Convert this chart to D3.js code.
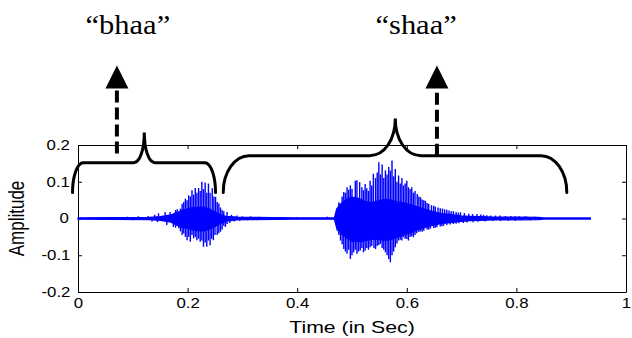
<!DOCTYPE html>
<html>
<head>
<meta charset="utf-8">
<script src="https://cdn.jsdelivr.net/npm/d3@7"></script>
<style>
	body { margin: 0; background: #fff; }
	svg { display: block; }
	.stretch { transform-box: fill-box; transform-origin: center; }
</style>
</head>
<body>
<div id="chart"></div>
<script>
// x ticks (seconds) and y ticks (amplitude)
const xTicks = [0, 0.2, 0.4, 0.6, 0.8, 1];
const yTicks = [-0.2, -0.1, 0, 0.1, 0.2];

// dense core of the waveform: time, upper edge, lower edge
const coreT  = [0, 0.13, 0.15, 0.17, 0.18, 0.19, 0.20, 0.21, 0.22, 0.23, 0.24, 0.25, 0.26, 0.27, 0.29, 0.31, 0.40, 0.468, 0.472, 0.478, 0.49, 0.50, 0.512, 0.524, 0.536, 0.548, 0.56, 0.572, 0.584, 0.596, 0.606, 0.625, 0.643, 0.661, 0.679, 0.698, 0.716, 0.734, 0.758, 0.80, 0.84, 0.85, 0.935];
const coreHi = [0.002, 0.003, 0.005, 0.01, 0.016, 0.022, 0.026, 0.03, 0.031, 0.031, 0.026, 0.018, 0.01, 0.006, 0.004, 0.003, 0.002, 0.002, 0.026, 0.038, 0.052, 0.058, 0.055, 0.046, 0.043, 0.049, 0.052, 0.05, 0.045, 0.042, 0.038, 0.029, 0.021, 0.014, 0.011, 0.007, 0.006, 0.005, 0.004, 0.0035, 0.003, 0.0015, 0.0015];
const coreLo = [-0.002, -0.003, -0.005, -0.01, -0.018, -0.024, -0.027, -0.031, -0.034, -0.034, -0.029, -0.022, -0.013, -0.007, -0.004, -0.003, -0.002, -0.002, -0.026, -0.038, -0.053, -0.062, -0.063, -0.06, -0.057, -0.057, -0.06, -0.057, -0.05, -0.044, -0.039, -0.028, -0.02, -0.014, -0.011, -0.008, -0.006, -0.005, -0.004, -0.0035, -0.003, -0.0015, -0.0015];

// individual peaks sticking out of the core
const peakT = [
	0.02, 0.045, 0.06, 0.075, 0.09, 0.10, 0.11, 0.12, 0.128, 0.135, 0.14, 0.145,
	0.147, 0.159, 0.168, 0.178, 0.187, 0.196, 0.202, 0.208, 0.214, 0.220, 0.226, 0.232, 0.238, 0.245, 0.251, 0.257, 0.263, 0.272, 0.28, 0.29, 0.30, 0.315, 0.33,
	0.181, 0.190, 0.193, 0.199, 0.205, 0.211, 0.217, 0.223, 0.229, 0.235, 0.241, 0.248, 0.254, 0.260, 0.266,
	0.162, 0.174, 0.184, 0.193, 0.199, 0.205, 0.211, 0.217, 0.223, 0.229, 0.235, 0.241, 0.247, 0.254, 0.260, 0.269, 0.277, 0.285, 0.295, 0.31,
	0.178, 0.187, 0.190, 0.196, 0.202, 0.208, 0.214, 0.220, 0.226, 0.232, 0.238, 0.244, 0.250, 0.257, 0.263, 0.266, 0.272,
	0.35, 0.37, 0.40, 0.44, 0.455,
	0.476, 0.485, 0.491, 0.497, 0.506, 0.514, 0.524, 0.533, 0.539, 0.549, 0.555, 0.561, 0.567, 0.573, 0.579, 0.585, 0.591, 0.600, 0.609, 0.619, 0.628, 0.637, 0.649, 0.661, 0.673, 0.685, 0.698, 0.713, 0.728, 0.746, 0.762, 0.780, 0.798, 0.816, 0.834,
	0.482, 0.488, 0.494, 0.500, 0.509, 0.518, 0.521, 0.527, 0.530, 0.536, 0.543, 0.546, 0.552, 0.558, 0.564, 0.570, 0.576, 0.582, 0.588, 0.594, 0.597, 0.603, 0.606, 0.612, 0.615, 0.622, 0.625, 0.631, 0.634, 0.640, 0.645, 0.652, 0.657, 0.665, 0.669, 0.677, 0.681, 0.690, 0.694, 0.705, 0.720, 0.735, 0.740, 0.753, 0.770, 0.790, 0.805, 0.820, 0.840,
	0.473, 0.479, 0.485, 0.491, 0.497, 0.503, 0.509, 0.515, 0.524, 0.533, 0.543, 0.552, 0.561, 0.567, 0.570, 0.579, 0.585, 0.594, 0.603, 0.612, 0.622, 0.631, 0.643, 0.655, 0.667, 0.685, 0.703, 0.721, 0.743, 0.771, 0.798, 0.825,
	0.476, 0.482, 0.488, 0.494, 0.500, 0.506, 0.512, 0.518, 0.521, 0.527, 0.530, 0.536, 0.540, 0.546, 0.549, 0.555, 0.558, 0.564, 0.573, 0.576, 0.582, 0.588, 0.591, 0.597, 0.600, 0.606, 0.609, 0.615, 0.618, 0.625, 0.628, 0.637, 0.640, 0.649, 0.652, 0.661, 0.664, 0.673, 0.679, 0.690, 0.695, 0.710, 0.730, 0.757, 0.785, 0.810, 0.835
];
const peakV = [
	0.003, -0.004, 0.004, -0.003, 0.005, -0.005, 0.006, -0.004, 0.007, -0.008, 0.01, -0.01,
	0.014, 0.018, 0.018, 0.023, 0.027, 0.054, 0.063, 0.077, 0.083, 0.083, 0.100, 0.098, 0.095, 0.082, 0.059, 0.041, 0.023, 0.018, 0.01, 0.008, 0.006, 0.006, 0.005,
	0.025, 0.04, 0.045, 0.05, 0.06, 0.065, 0.07, 0.075, 0.08, 0.07, 0.07, 0.06, 0.045, 0.03, 0.02,
	-0.018, -0.023, -0.027, -0.041, -0.059, -0.063, -0.054, -0.059, -0.063, -0.077, -0.077, -0.073, -0.059, -0.045, -0.036, -0.023, -0.012, -0.008, -0.006, -0.005,
	-0.025, -0.035, -0.045, -0.05, -0.05, -0.045, -0.05, -0.055, -0.06, -0.065, -0.06, -0.055, -0.045, -0.04, -0.03, -0.02, -0.015,
	0.004, -0.003, 0.004, 0.003, 0.005,
	0.044, 0.072, 0.085, 0.09, 0.103, 0.099, 0.094, 0.103, 0.122, 0.153, 0.147, 0.131, 0.14, 0.158, 0.135, 0.117, 0.11, 0.103, 0.085, 0.067, 0.052, 0.042, 0.035, 0.028, 0.024, 0.02, 0.017, 0.013, 0.012, 0.009, 0.008, 0.007, 0.006, 0.006, 0.005,
	0.06, 0.07, 0.078, 0.08, 0.104, 0.085, 0.077, 0.082, 0.075, 0.09, 0.11, 0.125, 0.12, 0.11, 0.12, 0.13, 0.115, 0.1, 0.095, 0.09, 0.095, 0.085, 0.08, 0.07, 0.075, 0.06, 0.058, 0.05, 0.048, 0.04, 0.036, 0.032, 0.03, 0.027, 0.025, 0.022, 0.02, 0.018, 0.016, 0.015, 0.012, 0.011, 0.01, 0.008, 0.008, 0.007, 0.006, 0.005, 0.004,
	-0.033, -0.06, -0.083, -0.096, -0.11, -0.092, -0.096, -0.087, -0.087, -0.078, -0.083, -0.069, -0.092, -0.11, -0.119, -0.078, -0.06, -0.051, -0.06, -0.051, -0.037, -0.033, -0.028, -0.024, -0.02, -0.015, -0.012, -0.01, -0.008, -0.007, -0.006, -0.005,
	-0.045, -0.07, -0.09, -0.085, -0.1, -0.085, -0.09, -0.08, -0.092, -0.08, -0.085, -0.075, -0.08, -0.075, -0.072, -0.08, -0.085, -0.1, -0.1, -0.09, -0.068, -0.058, -0.06, -0.055, -0.056, -0.05, -0.048, -0.045, -0.04, -0.035, -0.036, -0.03, -0.03, -0.026, -0.025, -0.022, -0.021, -0.018, -0.016, -0.014, -0.013, -0.011, -0.009, -0.007, -0.006, -0.005, -0.004
];

// syllable labels and the braces that mark them (time in sec, amplitude units)
const syllables   = ['\u201Cbhaa\u201D', '\u201Cshaa\u201D'];
const labelT      = [0.091, 0.617];
const arrowT      = [0.071, 0.655];
const arrowBottom = [0.177, 0.171];
const braceStart  = [-0.010, 0.265];
const braceEnd    = [0.251, 0.892];
const braceTip    = [0.121, 0.579];
const braceLevel  = [0.152, 0.171];
const braceTop    = [0.234, 0.272];

const width = 632, height = 338;
const margins = { top: 145, right: 6, bottom: 46, left: 78 };

const svg = d3.select('#chart').append('svg')
	.attr('width', width)
	.attr('height', height);

const xScale = d3.scaleLinear()
	.domain([0, 1])
	.range([margins.left, width - margins.right]);

const yScale = d3.scaleLinear()
	.domain([-0.2, 0.2])
	.range([height - margins.bottom, margins.top]);

const font = '"Liberation Sans", Arial, sans-serif';
const fmt = d => String(d);

// axes: ticks point inwards, box all round
const xAxis = svg.append('g')
	.attr('transform', `translate(0,${yScale(-0.2)})`)
	.call(d3.axisBottom(xScale).tickValues(xTicks).tickFormat(fmt).tickSizeInner(-4).tickSizeOuter(0).tickPadding(6));

const xAxisTop = svg.append('g')
	.attr('transform', `translate(0,${yScale(0.2)})`)
	.call(d3.axisTop(xScale).tickValues(xTicks).tickFormat('').tickSizeInner(-4).tickSizeOuter(0));

const yAxis = svg.append('g')
	.attr('transform', `translate(${xScale(0)},0)`)
	.call(d3.axisLeft(yScale).tickValues(yTicks).tickFormat(fmt).tickSizeInner(-4).tickSizeOuter(0).tickPadding(10));

const yAxisRight = svg.append('g')
	.attr('transform', `translate(${xScale(1)},0)`)
	.call(d3.axisRight(yScale).tickValues(yTicks).tickFormat('').tickSizeInner(-4).tickSizeOuter(0));

svg.selectAll('.domain').attr('stroke', '#000').attr('stroke-width', 1);
svg.selectAll('.tick line').attr('stroke', '#000');
svg.selectAll('.tick text')
	.attr('fill', '#000')
	.style('font-family', font)
	.style('font-size', '14px')
	.attr('class', 'stretch')
	.style('transform', 'scaleX(1.2)');

// waveform
const signal = svg.append('g');
const coreData = coreT.map((t, i) => ({ t, hi: coreHi[i], lo: coreLo[i] }));

signal.append('path')
	.attr('d', d3.area()
		.x(d => xScale(d.t))
		.y0(d => yScale(d.lo))
		.y1(d => yScale(d.hi))(coreData))
	.attr('fill', '#0000ff')
	.attr('stroke', '#0000ff')
	.attr('stroke-width', 1.2);

signal.selectAll('line.peak')
	.data(peakT.map((t, i) => ({ t, v: peakV[i] })))
	.join('line')
		.attr('class', 'peak')
		.attr('x1', d => xScale(d.t))
		.attr('x2', d => xScale(d.t))
		.attr('y1', yScale(0))
		.attr('y2', d => yScale(d.v))
		.attr('stroke', '#0000ff')
		.attr('stroke-width', 1.4);

// braces
const bracePath = i => {
	const x0 = xScale(braceStart[i]), x1 = xScale(braceEnd[i]), xc = xScale(braceTip[i]);
	const yl = yScale(braceLevel[i]), yt = yScale(braceTop[i]), ye = yScale(0.071);
	const rx = (x1 - x0) * 0.075, cr = (x1 - x0) * 0.075;
	const p = d3.path();
	p.moveTo(x0, ye);
	p.bezierCurveTo(x0, ye - (ye - yl) * 0.55, x0 + rx * 0.45, yl, x0 + rx, yl);
	p.lineTo(xc - cr, yl);
	p.bezierCurveTo(xc - cr * 0.4, yl, xc, yl - (yl - yt) * 0.45, xc, yt);
	p.bezierCurveTo(xc, yl - (yl - yt) * 0.45, xc + cr * 0.4, yl, xc + cr, yl);
	p.lineTo(x1 - rx, yl);
	p.bezierCurveTo(x1 - rx * 0.45, yl, x1, yl + (ye - yl) * 0.45, x1, ye);
	return p.toString();
};

const notes = svg.append('g');
notes.selectAll('path.brace')
	.data(syllables)
	.join('path')
		.attr('class', 'brace')
		.attr('d', (d, i) => bracePath(i))
		.attr('fill', 'none')
		.attr('stroke', '#000')
		.attr('stroke-width', 3)
		.attr('stroke-linecap', 'round');

// dashed arrows
notes.selectAll('line.shaft')
	.data(syllables)
	.join('line')
		.attr('class', 'shaft')
		.attr('x1', (d, i) => xScale(arrowT[i]))
		.attr('x2', (d, i) => xScale(arrowT[i]))
		.attr('y1', (d, i) => yScale(arrowBottom[i]))
		.attr('y2', yScale(0.356))
		.attr('stroke', '#000')
		.attr('stroke-width', 4)
		.attr('stroke-dasharray', '12,5');

notes.selectAll('path.head')
	.data(syllables)
	.join('path')
		.attr('class', 'head')
		.attr('d', (d, i) => {
			const x = xScale(arrowT[i]);
			return `M${x},${yScale(0.416)}L${x + 11.5},${yScale(0.354)}L${x - 11.5},${yScale(0.354)}Z`;
		})
		.attr('fill', '#000');

notes.selectAll('text.syl')
	.data(syllables)
	.join('text')
		.attr('class', 'syl stretch')
		.attr('x', (d, i) => xScale(labelT[i]))
		.attr('y', yScale(0.503))
		.attr('text-anchor', 'middle')
		.style('font-family', '"Liberation Serif", "Times New Roman", serif')
		.style('font-size', '27px')
		.style('transform', 'scaleX(1.13)')
		.attr('fill', '#000')
		.text(d => d);

// axis labels
svg.append('text')
	.attr('class', 'stretch')
	.attr('x', xScale(0.5))
	.attr('y', 333)
	.attr('text-anchor', 'middle')
	.style('font-family', font)
	.style('font-size', '17px')
	.style('transform', 'scaleX(1.25)')
	.attr('fill', '#000')
	.text('Time (in Sec)');

svg.append('text')
	.attr('transform', `translate(24,${yScale(0)}) scale(1.25,1) rotate(-90)`)
	.attr('text-anchor', 'middle')
	.style('font-family', font)
	.style('font-size', '17px')
	.attr('fill', '#000')
	.text('Amplitude');
</script>
</body>
</html>
